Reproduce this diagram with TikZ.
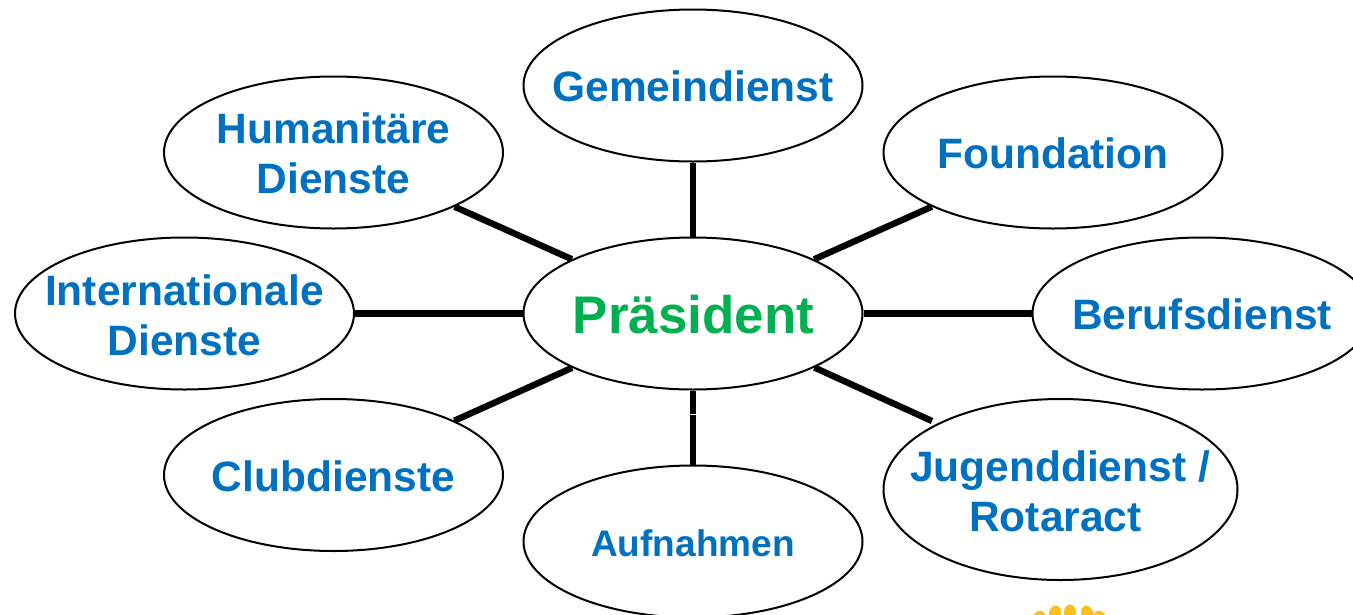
\documentclass[tikz,border=0pt]{standalone}
\usepackage{fontspec}
\setmainfont{Liberation Sans}
\usetikzlibrary{shapes.geometric}
\definecolor{lblue}{HTML}{0070C0}
\definecolor{lgreen}{HTML}{00B050}
\definecolor{sun}{HTML}{F9C020}
\tikzset{
  oval/.style={draw=black,line width=2pt,ellipse,inner sep=0pt,minimum width=339pt,minimum height=152pt},
  lab/.style={text=lblue,font=\fontsize{42.5pt}{50pt}\selectfont\bfseries,align=center,inner sep=0pt},
  spoke/.style={draw=black,line width=6.4pt}
}
\begin{document}
\begin{tikzpicture}[x=1pt,y=-1pt]
\useasboundingbox (0,0) rectangle (1353,614);
\clip (0,0) rectangle (1353,614);
% logo fragment at the bottom edge
\foreach \px/\py/\rot in {1039/618/-28,1055/613/-14,1070/612/0,1087/613/14,1100/618/28}
  \fill[sun,rotate around={\rot:(\px,\py)}] (\px,\py) ellipse [x radius=6,y radius=7.5];
% ovals
\node[oval] (P) at (693,313.5) {};
\node[oval] (G) at (693,85.5) {};
\node[oval] (H) at (333.5,152.5) {};
\node[oval] (F) at (1053,152.5) {};
\node[oval] (I) at (184.5,313.5) {};
\node[oval] (B) at (1202,313.5) {};
\node[oval] (C) at (333.5,475) {};
\node[oval] (A) at (693,541.5) {};
\node[oval,minimum width=354pt,minimum height=181pt] (J) at (1060.5,489.5) {};
\coordinate (Jend) at (932,421);
% spokes
\draw[spoke] (P) -- (G);
\draw[spoke] (P) -- (H);
\draw[spoke] (P) -- (F);
\draw[spoke] (P) -- (I);
\draw[spoke] (P) -- (B);
\draw[spoke] (P) -- (C);
\draw[spoke] (P) -- (A);
\draw[spoke] (P.-24) -- (Jend);
\draw[white,line width=1pt] (689,414) -- (697,414);
% labels
\node[text=lgreen,font=\fontsize{52.9pt}{60pt}\selectfont\bfseries,inner sep=0pt] (tP) at (693.5,315) {Präsident};
\node[lab] (tG) at (693,86) {Gemeindienst};
\node[lab] (tH) at (333.5,153) {Humanitäre\\Dienste};
\node[lab] (tF) at (1053,153) {Foundation};
\node[lab] (tI) at (184.5,315) {Internationale\\Dienste};
\node[lab] (tB) at (1202,314) {Berufsdienst};
\node[lab] (tC) at (333.5,476) {Clubdienste};
\node[lab,font=\fontsize{37pt}{44pt}\selectfont\bfseries] (tA) at (693,543) {Aufnahmen};
\node[lab] (tJ) at (1060,491) {Jugenddienst /\\Rotaract\hspace*{9pt}};
\end{tikzpicture}
\end{document}
